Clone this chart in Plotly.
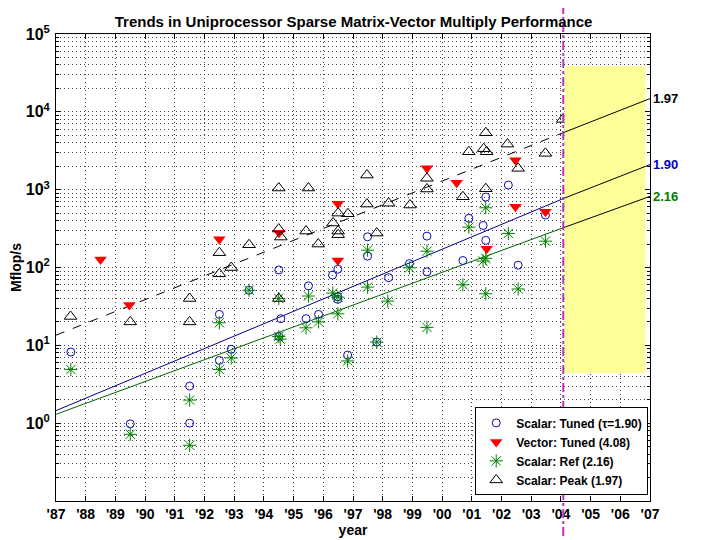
import math
import plotly.graph_objects as go

# Data (year, Mflop/s)
tuned_years = [1987.5, 1989.5, 1991.5, 1991.5, 1992.5, 1992.9, 1992.5, 1993.5, 1994.5, 1994.57,
               1994.5, 1995.5, 1995.42, 1995.84, 1996.31, 1996.49, 1996.49, 1996.49, 1996.82,
               1997.49, 1997.49, 1997.8, 1998.2, 1998.9, 1999.49, 1999.49, 2000.7, 2000.9,
               2001.38, 2001.47, 2001.47, 2002.23, 2002.56, 2003.48]
tuned_mflops = [8.2, 0.98, 3.0, 1.0, 6.4, 8.9, 25, 51, 93, 22,
                13, 58, 22, 25, 80, 95, 42, 39, 7.5,
                248, 140, 11, 74, 112, 253, 88, 123, 428,
                347, 803, 223, 1146, 107, 472]

vector_years = [1988.5, 1989.47, 1992.5, 1994.51, 1996.49, 1996.49, 1999.49, 2000.49,
                2001.5, 2002.47, 2002.47, 2003.48]
vector_mflops = [127, 33, 230, 279, 659, 123, 1880, 1227, 174, 2380, 603, 520]

ref_years = [1987.5, 1989.5, 1991.5, 1991.5, 1992.5, 1992.9, 1992.5, 1993.5, 1994.5, 1994.5,
             1994.55, 1995.5, 1995.42, 1995.84, 1996.32, 1996.49, 1996.49, 1996.82, 1997.49,
             1997.49, 1997.8, 1998.17, 1998.9, 1999.49, 1999.49, 2000.7, 2000.9, 2001.38,
             2001.47, 2001.47, 2001.47, 2002.23, 2002.56, 2003.48]
ref_mflops = [4.9, 0.72, 1.98, 0.52, 4.9, 6.9, 19.5, 51, 40, 13,
              12, 43, 16.8, 20, 47, 41.6, 25.4, 6.3, 167,
              56, 11, 37, 99, 162, 17, 60, 330, 121,
              131, 46, 585, 274, 53, 218]

peak_years = [1987.49, 1989.5, 1991.5, 1991.5, 1992.5, 1992.5, 1992.9, 1993.5, 1994.5, 1994.5,
              1994.57, 1994.5, 1995.5, 1995.42, 1995.83, 1996.33, 1996.5, 1996.83, 1996.5,
              1996.5, 1997.47, 1997.47, 1997.8, 1998.2, 1998.92, 1999.49, 1999.49, 2000.7,
              2000.9, 2001.4, 2001.5, 2001.47, 2001.47, 2002.2, 2002.56, 2003.48, 2004.06]
peak_mflops = [23.5, 20, 20, 40, 155, 83, 100, 196, 1050, 312,
               246, 40, 1050, 294, 200, 373, 500, 490, 294,
               264, 1540, 653, 277, 670, 635, 1400, 1020, 811,
               3070, 3360, 3070, 5390, 1028, 3850, 1880, 2930, 8000]

# Trend lines: start, forecast boundary, end
trend_years = [1987, 2004.08, 2007]
peak_trend = [13.5, 5400, 14800]
tuned_trend = [1.45, 768, 2100]
ref_trend = [1.3, 324, 820]

FORECAST_YEAR = 2004.08
forecast_box_years = [2004.12, 2006.85]
forecast_box_mflops = [4.4, 38800]

X_RANGE = [1987, 2007]
year_ticks = list(range(1987, 2008))
year_labels = ["'%02d" % (y % 100) for y in year_ticks]
mflop_ticks = [1, 10, 100, 1000, 10000, 100000]
mflop_labels = ["10<sup>%d</sup>" % e for e in range(0, 6)]
minor_ticks = [k * 10 ** e for e in range(-1, 5) for k in range(2, 10)]

FONT = "Arial, Liberation Sans, sans-serif"
BLUE = "#0a0ab4"
GREEN = "#008000"
GRID_DASH = "1px,3px"
GRID_COLOR = "#444444"

fig = go.Figure()

# trend lines before the forecast year
fig.add_trace(go.Scatter(x=trend_years[:2], y=peak_trend[:2], mode="lines",
                         line=dict(color="black", width=1, dash="dash"),
                         showlegend=False, hoverinfo="skip"))
fig.add_trace(go.Scatter(x=trend_years[:2], y=tuned_trend[:2], mode="lines",
                         line=dict(color="#000090", width=1),
                         showlegend=False, hoverinfo="skip"))
fig.add_trace(go.Scatter(x=trend_years[:2], y=ref_trend[:2], mode="lines",
                         line=dict(color="#006400", width=1),
                         showlegend=False, hoverinfo="skip"))

fig.add_trace(go.Scatter(x=tuned_years, y=tuned_mflops, mode="markers",
                         name="Scalar: Tuned (\u03c4=1.90)",
                         marker=dict(symbol="circle-open", size=8, color=BLUE, line=dict(width=1))))
fig.add_trace(go.Scatter(x=vector_years, y=vector_mflops, mode="markers",
                         name="Vector: Tuned (4.08)",
                         marker=dict(symbol="triangle-down", size=11, color="red")))
fig.add_trace(go.Scatter(x=ref_years, y=ref_mflops, mode="markers",
                         name="Scalar: Ref (2.16)",
                         marker=dict(symbol="asterisk-open", size=11, color=GREEN, line=dict(width=1, color=GREEN))))
fig.add_trace(go.Scatter(x=peak_years, y=peak_mflops, mode="markers",
                         name="Scalar: Peak (1.97)",
                         marker=dict(symbol="triangle-up-open", size=11, color="black", line=dict(width=1))))

# forecast region (drawn over markers, under the extrapolated lines)
bx0, bx1 = forecast_box_years
by0, by1 = forecast_box_mflops
fig.add_trace(go.Scatter(x=[bx0, bx1, bx1, bx0, bx0], y=[by0, by0, by1, by1, by0],
                         mode="lines", fill="toself", fillcolor="#ffff99",
                         line=dict(width=0, color="#ffff99"), showlegend=False, hoverinfo="skip"))

# extrapolation (black, solid)
for trend in (peak_trend, tuned_trend, ref_trend):
    fig.add_trace(go.Scatter(x=trend_years[1:], y=trend[1:], mode="lines",
                             line=dict(color="black", width=1),
                             showlegend=False, hoverinfo="skip"))

xf = (FORECAST_YEAR - X_RANGE[0]) / (X_RANGE[1] - X_RANGE[0])
fig.add_shape(type="line", xref="paper", yref="paper", x0=xf, x1=xf, y0=-0.075, y1=1.06,
              line=dict(color="#c030c0", width=2, dash="dashdot"), layer="above")

# doubling-time labels at line ends (annotation y is log10 on a log axis)
for trend, txt, col in ((peak_trend, "1.97", "black"), (tuned_trend, "1.90", "#0000c8"),
                        (ref_trend, "2.16", GREEN)):
    fig.add_annotation(x=trend_years[-1], y=math.log10(trend[-1]), xref="x", yref="y",
                       text="<b>%s</b>" % txt, showarrow=False, xanchor="left", yanchor="middle",
                       xshift=1, font=dict(size=13, color=col, family=FONT))

fig.update_xaxes(range=X_RANGE, tickvals=year_ticks, ticktext=year_labels,
                 ticks="inside", ticklen=5, tickcolor="black", mirror="ticks",
                 showline=True, linecolor="black", linewidth=1, automargin=False,
                 showgrid=True, gridcolor=GRID_COLOR, gridwidth=1, griddash=GRID_DASH,
                 zeroline=False, tickfont=dict(size=14, color="black", family=FONT, weight="bold"),
                 title=dict(text="year", font=dict(size=14, color="black", family=FONT, weight="bold"),
                            standoff=0))
fig.update_yaxes(type="log", range=[-1, 5], tickvals=mflop_ticks, ticktext=mflop_labels,
                 ticks="inside", ticklen=5, tickcolor="black", mirror="ticks",
                 showline=True, linecolor="black", linewidth=1, automargin=False,
                 showgrid=True, gridcolor=GRID_COLOR, gridwidth=1, griddash=GRID_DASH,
                 minor=dict(tickvals=minor_ticks, ticks="inside", ticklen=3, tickcolor="black",
                            showgrid=True, gridcolor=GRID_COLOR, gridwidth=1, griddash=GRID_DASH),
                 zeroline=False, tickfont=dict(size=16, color="black", family=FONT, weight="bold"),
                 ticklabelstandoff=2,
                 title=dict(text="Mflop/s", font=dict(size=14, color="black", family=FONT, weight="bold"),
                            standoff=2))

fig.update_layout(
    width=720, height=540,
    margin=dict(l=48, r=78, t=26, b=47, autoexpand=False),
    paper_bgcolor="white", plot_bgcolor="white",
    title=dict(text="Trends in Uniprocessor Sparse Matrix-Vector Multiply Performance",
               x=0.48, xanchor="center", y=0.985, yanchor="top", automargin=False,
               font=dict(size=15, color="black", family=FONT, weight="bold")),
    legend=dict(x=0.997, xanchor="right", y=0.012, yanchor="bottom",
                bgcolor="white", bordercolor="black", borderwidth=1,
                font=dict(size=12, color="black", family=FONT, weight="bold"),
                tracegroupgap=0, itemwidth=30),
    font=dict(family=FONT, color="black"),
)

fig.write_html("out.html")
